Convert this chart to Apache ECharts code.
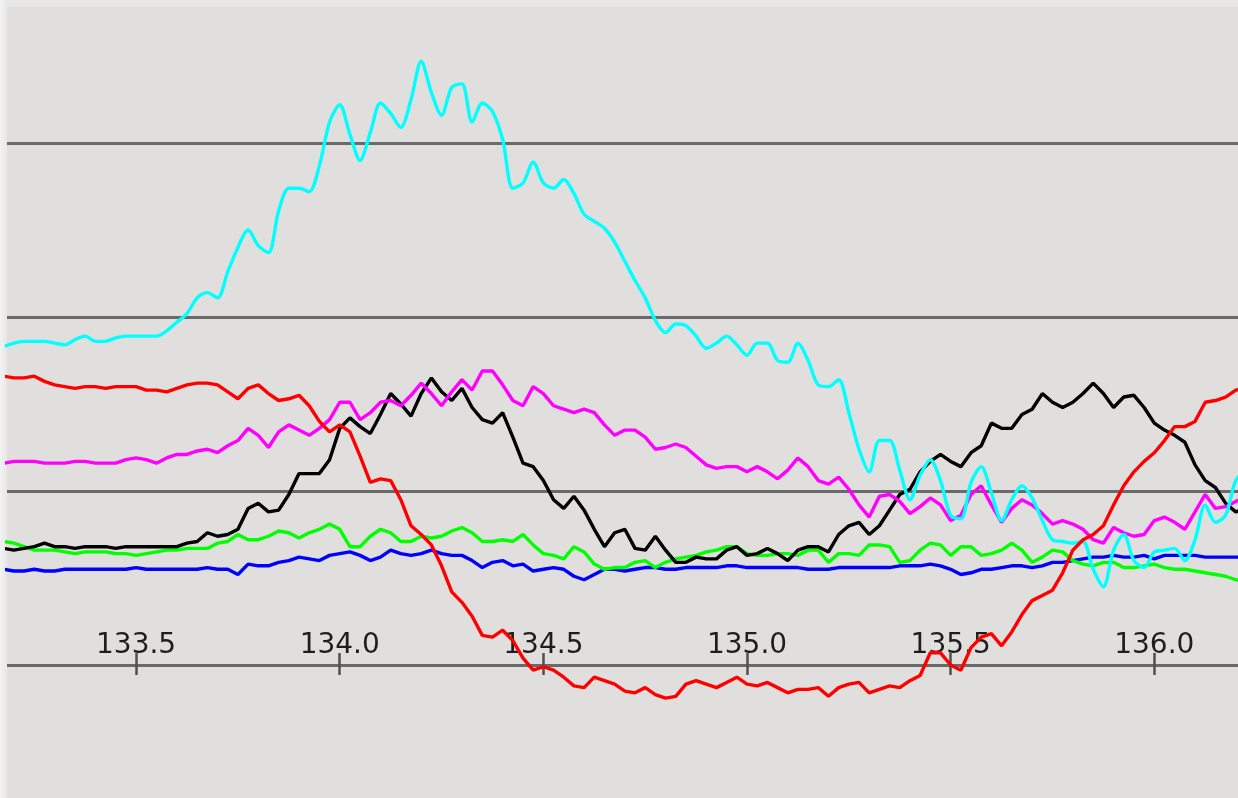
<!DOCTYPE html>
<html>
<head>
<meta charset="utf-8">
<title>Signal traces</title>
<script src="https://cdn.jsdelivr.net/npm/echarts@6/dist/echarts.min.js"></script>
<style>
  html, body { margin: 0; padding: 0; }
  body { background: linear-gradient(to right, #f3f3f3 0px, #e7e7e7 7px); }
  #chart { width: 1238px; height: 798px; }
</style>
</head>
<body>
<div id="chart"></div>
<script>
// Sample positions along the x axis
const xs = [
  133.175,133.2,133.225,133.25,133.275,133.3,133.325,133.35,133.375,133.4,
  133.425,133.45,133.475,133.5,133.525,133.55,133.575,133.6,133.625,133.65,
  133.675,133.7,133.725,133.75,133.775,133.8,133.825,133.85,133.875,133.9,
  133.925,133.95,133.975,134,134.025,134.05,134.075,134.1,134.125,134.15,
  134.175,134.2,134.225,134.25,134.275,134.3,134.325,134.35,134.375,134.4,
  134.425,134.45,134.475,134.5,134.525,134.55,134.575,134.6,134.625,134.65,
  134.675,134.7,134.725,134.75,134.775,134.8,134.825,134.85,134.875,134.9,
  134.925,134.95,134.975,135,135.025,135.05,135.075,135.1,135.125,135.15,
  135.175,135.2,135.225,135.25,135.275,135.3,135.325,135.35,135.375,135.4,
  135.425,135.45,135.475,135.5,135.525,135.55,135.575,135.6,135.625,135.65,
  135.675,135.7,135.725,135.75,135.775,135.8,135.825,135.85,135.875,135.9,
  135.925,135.95,135.975,136,136.025,136.05,136.075,136.1,136.125,136.15,
  136.175,136.2,136.225
];

const cyanValues = [
  1.83,1.85,1.86,1.86,1.86,1.85,1.84,1.87,1.89,1.86,
  1.86,1.88,1.89,1.89,1.89,1.89,1.92,1.97,2.02,2.11,
  2.14,2.11,2.26,2.40,2.50,2.41,2.37,2.61,2.74,2.74,
  2.72,2.87,3.12,3.22,3.05,2.90,3.06,3.23,3.17,3.09,
  3.25,3.47,3.29,3.16,3.32,3.34,3.12,3.23,3.18,3.02,
  2.74,2.77,2.89,2.77,2.74,2.79,2.71,2.59,2.55,2.51,
  2.43,2.32,2.21,2.11,1.98,1.91,1.96,1.95,1.89,1.82,
  1.85,1.89,1.84,1.78,1.85,1.85,1.75,1.74,1.85,1.75,
  1.61,1.60,1.64,1.45,1.24,1.11,1.29,1.29,1.12,0.95,
  1.09,1.18,1.06,0.86,0.84,1.05,1.14,0.99,0.83,0.95,
  1.03,0.96,0.83,0.72,0.71,0.70,0.71,0.55,0.45,0.66,
  0.75,0.60,0.56,0.65,0.66,0.67,0.60,0.72,0.92,0.82,
  0.86,1.06,1.12
];

const redValues = [
  1.66,1.65,1.65,1.66,1.63,1.61,1.60,1.59,1.60,1.60,
  1.59,1.60,1.60,1.60,1.58,1.58,1.57,1.59,1.61,1.62,
  1.62,1.61,1.57,1.53,1.59,1.61,1.56,1.52,1.53,1.55,
  1.49,1.40,1.34,1.38,1.34,1.20,1.05,1.07,1.06,0.95,
  0.80,0.75,0.69,0.57,0.42,0.36,0.28,0.17,0.16,0.20,
  0.14,0.04,-0.03,-0.01,-0.03,-0.07,-0.12,-0.13,-0.07,-0.09,
  -0.11,-0.15,-0.16,-0.13,-0.17,-0.19,-0.18,-0.11,-0.09,-0.11,
  -0.13,-0.10,-0.07,-0.11,-0.12,-0.10,-0.13,-0.16,-0.14,-0.14,
  -0.13,-0.18,-0.13,-0.11,-0.10,-0.16,-0.14,-0.12,-0.13,-0.09,
  -0.06,0.07,0.07,0.00,-0.03,0.10,0.16,0.18,0.11,0.19,
  0.29,0.37,0.40,0.43,0.53,0.66,0.72,0.75,0.80,0.92,
  1.03,1.11,1.17,1.22,1.29,1.37,1.37,1.40,1.51,1.52,
  1.54,1.58,1.59
];

const magentaValues = [
  1.16,1.17,1.17,1.17,1.16,1.16,1.16,1.17,1.17,1.16,
  1.16,1.16,1.18,1.19,1.18,1.16,1.19,1.21,1.21,1.23,
  1.24,1.22,1.26,1.29,1.36,1.32,1.25,1.34,1.38,1.35,
  1.32,1.36,1.41,1.51,1.51,1.41,1.45,1.51,1.52,1.49,
  1.55,1.62,1.56,1.49,1.57,1.64,1.58,1.69,1.69,1.61,
  1.52,1.49,1.60,1.56,1.49,1.47,1.45,1.47,1.45,1.38,
  1.32,1.35,1.35,1.31,1.24,1.25,1.27,1.25,1.20,1.15,
  1.13,1.14,1.14,1.11,1.14,1.11,1.07,1.12,1.19,1.14,
  1.06,1.04,1.08,1.01,0.92,0.85,0.97,0.98,0.94,0.87,
  0.91,0.96,0.92,0.83,0.86,0.98,1.03,0.92,0.82,0.90,
  0.95,0.92,0.87,0.81,0.83,0.81,0.78,0.72,0.70,0.79,
  0.76,0.74,0.75,0.83,0.85,0.82,0.78,0.88,0.98,0.90,
  0.91,0.94,0.96
];

const blackValues = [
  0.67,0.66,0.67,0.68,0.70,0.68,0.68,0.67,0.68,0.68,
  0.68,0.67,0.68,0.68,0.68,0.68,0.68,0.68,0.70,0.71,
  0.76,0.74,0.75,0.78,0.90,0.93,0.88,0.89,0.98,1.10,
  1.10,1.10,1.18,1.36,1.42,1.37,1.33,1.44,1.56,1.50,
  1.43,1.56,1.65,1.57,1.52,1.59,1.48,1.41,1.39,1.45,
  1.31,1.16,1.14,1.06,0.95,0.90,0.97,0.89,0.78,0.68,
  0.76,0.78,0.67,0.66,0.74,0.66,0.59,0.59,0.62,0.61,
  0.61,0.66,0.68,0.63,0.64,0.67,0.64,0.60,0.66,0.68,
  0.68,0.65,0.75,0.80,0.82,0.75,0.80,0.89,0.98,1.01,
  1.11,1.17,1.21,1.17,1.14,1.22,1.26,1.39,1.36,1.36,
  1.44,1.47,1.56,1.51,1.48,1.51,1.56,1.62,1.56,1.48,
  1.54,1.55,1.48,1.39,1.35,1.32,1.28,1.15,1.06,1.02,
  0.93,0.88,0.90
];

const greenValues = [
  0.71,0.70,0.68,0.66,0.66,0.66,0.65,0.64,0.65,0.65,
  0.65,0.64,0.64,0.63,0.64,0.65,0.66,0.66,0.67,0.67,
  0.67,0.70,0.71,0.75,0.72,0.72,0.74,0.77,0.76,0.73,
  0.76,0.78,0.81,0.78,0.68,0.68,0.74,0.78,0.76,0.71,
  0.71,0.74,0.73,0.74,0.77,0.79,0.76,0.71,0.71,0.72,
  0.71,0.75,0.69,0.64,0.63,0.61,0.68,0.65,0.58,0.55,
  0.56,0.56,0.59,0.60,0.56,0.59,0.61,0.62,0.63,0.65,
  0.66,0.68,0.68,0.64,0.63,0.63,0.64,0.64,0.63,0.66,
  0.66,0.59,0.64,0.64,0.63,0.69,0.69,0.68,0.59,0.60,
  0.66,0.70,0.69,0.63,0.68,0.68,0.63,0.64,0.66,0.70,
  0.66,0.59,0.62,0.66,0.65,0.60,0.58,0.57,0.59,0.59,
  0.56,0.56,0.57,0.58,0.56,0.55,0.55,0.54,0.53,0.52,
  0.51,0.49,0.48
];

const blueValues = [
  0.55,0.54,0.54,0.55,0.54,0.54,0.55,0.55,0.55,0.55,
  0.55,0.55,0.55,0.56,0.55,0.55,0.55,0.55,0.55,0.55,
  0.56,0.55,0.55,0.52,0.58,0.57,0.57,0.59,0.60,0.62,
  0.61,0.60,0.63,0.64,0.65,0.63,0.60,0.62,0.66,0.64,
  0.63,0.64,0.66,0.64,0.63,0.63,0.60,0.56,0.59,0.60,
  0.57,0.58,0.54,0.55,0.56,0.55,0.51,0.49,0.52,0.55,
  0.55,0.54,0.55,0.56,0.56,0.55,0.55,0.56,0.56,0.56,
  0.56,0.57,0.57,0.56,0.56,0.56,0.56,0.56,0.56,0.55,
  0.55,0.55,0.56,0.56,0.56,0.56,0.56,0.56,0.57,0.57,
  0.57,0.58,0.57,0.55,0.52,0.53,0.55,0.55,0.56,0.57,
  0.57,0.56,0.57,0.59,0.59,0.60,0.61,0.62,0.62,0.63,
  0.62,0.62,0.63,0.61,0.63,0.63,0.63,0.63,0.62,0.62,
  0.62,0.62,0.62
];

// Axis ranges and tick values
const xMin = 133.183, xMax = 136.2055;
const yMin = -0.7644, yMax = 3.7816;
const xTickValues = [133.5, 134.0, 134.5, 135.0, 135.5, 136.0];
const yGridValues = [0, 1, 2, 3];

const traces = [
  { name: 'blue',    color: '#0000ff', values: blueValues,    smooth: false },
  { name: 'green',   color: '#00ff00', values: greenValues,   smooth: false },
  { name: 'black',   color: '#000000', values: blackValues,   smooth: false },
  { name: 'magenta', color: '#ff00ff', values: magentaValues, smooth: false },
  { name: 'cyan',    color: '#00ffff', values: cyanValues,    smooth: 0.3 },
  { name: 'red',     color: '#ff0000', values: redValues,     smooth: false }
];

// Plot area, and a band whose bottom edge sits on y = 0 for the tick marks and labels
const plotBox = { left: 7, top: 7, right: 0, bottom: 0, outerBoundsMode: 'none', containLabel: false };
const zeroBox = { left: 7, top: 7, right: 0, bottom: 133, outerBoundsMode: 'none', containLabel: false };
const tickStyle = { color: '#505050', width: 2.5 };

const chart = echarts.init(document.getElementById('chart'), null, { renderer: 'canvas' });
chart.setOption({
  backgroundColor: 'transparent',
  animation: false,
  grid: [
    Object.assign({ show: true, backgroundColor: '#e0dfdd', borderWidth: 0 }, plotBox),
    Object.assign({ show: false }, zeroBox),
    Object.assign({ show: false }, zeroBox)
  ],
  xAxis: [
    { type: 'value', gridIndex: 0, min: xMin, max: xMax, show: false, splitLine: { show: false } },
    {
      type: 'value', gridIndex: 1, min: xMin, max: xMax, position: 'bottom',
      axisLine: { show: false, onZero: false },
      axisTick: { show: true, inside: true, length: 12, customValues: xTickValues, lineStyle: tickStyle },
      axisLabel: { show: true, inside: true, margin: 5, customValues: xTickValues,
                   formatter: v => v.toFixed(1),
                   color: '#1e1e1e', fontSize: 28, fontFamily: 'DejaVu Sans' },
      splitLine: { show: false }
    },
    {
      type: 'value', gridIndex: 2, min: xMin, max: xMax, position: 'bottom',
      axisLine: { show: false, onZero: false },
      axisTick: { show: true, inside: false, length: 10, customValues: xTickValues, lineStyle: tickStyle },
      axisLabel: { show: false },
      splitLine: { show: false }
    }
  ],
  yAxis: [
    {
      type: 'value', gridIndex: 0, min: yMin, max: yMax,
      axisLine: { show: false },
      axisTick: { show: false, customValues: yGridValues },
      axisLabel: { show: false, customValues: yGridValues },
      splitLine: { show: true, lineStyle: { color: '#6a6a6a', width: 3 } }
    },
    { type: 'value', gridIndex: 1, min: 0, max: 1, show: false, splitLine: { show: false } },
    { type: 'value', gridIndex: 2, min: 0, max: 1, show: false, splitLine: { show: false } }
  ],
  series: traces.map(t => ({
    name: t.name,
    type: 'line',
    xAxisIndex: 0,
    yAxisIndex: 0,
    showSymbol: false,
    symbol: 'none',
    smooth: t.smooth,
    clip: true,
    z: 3,
    lineStyle: { color: t.color, width: 3.4 },
    data: xs.map((x, i) => [x, t.values[i]])
  }))
});
</script>
</body>
</html>
